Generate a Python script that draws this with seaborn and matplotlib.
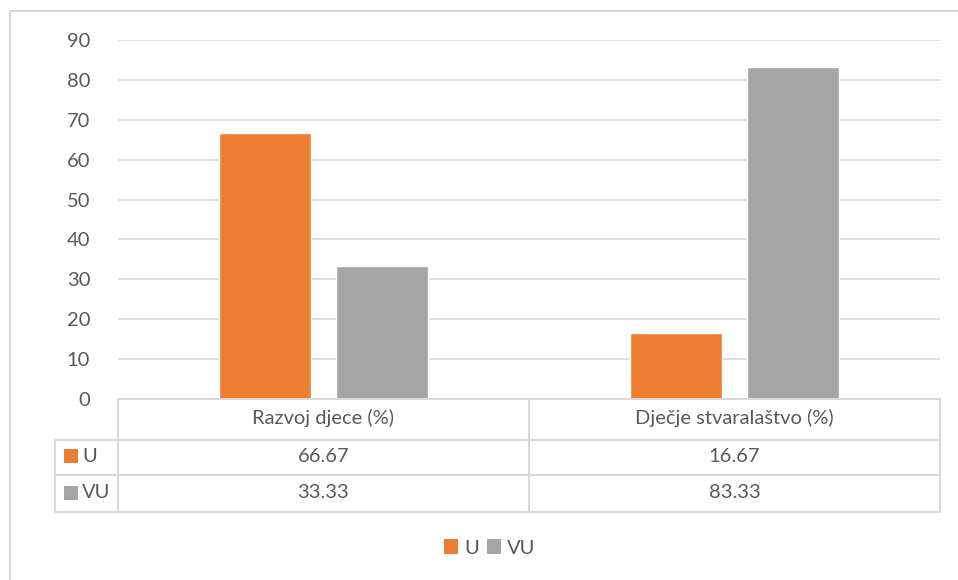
import matplotlib
matplotlib.use("Agg")
import matplotlib.pyplot as plt
import seaborn as sns
import pandas as pd
from matplotlib.patches import Patch, Rectangle

# --- data ---
categories = ["Razvoj djece (%)", "Dječje stvaralaštvo (%)"]
series = ["U", "VU"]
values_u = [66.67, 16.67]
values_vu = [33.33, 83.33]
value_labels = {"U": ["66.67", "16.67"], "VU": ["33.33", "83.33"]}
y_ticks = [0, 10, 20, 30, 40, 50, 60, 70, 80, 90]

colors = {"U": "#ED7D31", "VU": "#A5A5A5"}
grid_col = "#D9D9D9"
text_col = "#595959"

df = pd.DataFrame({
    "category": categories * 2,
    "series": ["U"] * len(categories) + ["VU"] * len(categories),
    "value": values_u + values_vu,
})

sns.set_theme(style="white")
plt.rcParams["font.family"] = ["Lato", "DejaVu Sans"]
FS = 14.5

W, H = 958, 580
fig = plt.figure(figsize=(W / 100, H / 100), dpi=100)

def px_axes(x0, y0, x1, y1):
    # rectangle in pixel coords (top-left origin)
    return fig.add_axes([x0 / W, 1 - y1 / H, (x1 - x0) / W, (y1 - y0) / H])

# chart area border
fig.patches.append(Rectangle((10 / W, -0.1), 2, 1 - 11 / H + 0.1, transform=fig.transFigure,
                             fill=False, edgecolor=grid_col, linewidth=1.5))

ax = px_axes(118, 40, 940, 399)
sns.barplot(data=df, x="category", y="value", hue="series", palette=colors,
            width=0.569, gap=0.214, ax=ax, legend=False, saturation=1)
ax.set_xlim(-0.5, 1.5)
ax.set_ylim(0, 90)
ax.set_yticks(y_ticks)
ax.set_yticklabels([str(t) for t in y_ticks], fontsize=FS, color=text_col)
ax.tick_params(axis="y", length=0, pad=20)
ax.set_xticks([])
ax.set_xlabel("")
ax.set_ylabel("")
ax.yaxis.grid(True, color=grid_col, linewidth=1.2)
ax.set_axisbelow(True)
for s in ax.spines.values():
    s.set_visible(False)

# --- data table below the plot ---
lab_w = 63 / 411  # label column width in category units
tb = px_axes(55, 399, 940, 512)
tb.set_xlim(-0.5 - lab_w, 1.5)
tb.set_ylim(113, 0)
tb.axis("off")
row_lines = [0, 41, 76, 113]
lw = 1.5
tb.plot([-0.5, 1.5], [row_lines[0]] * 2, color=grid_col, lw=lw, clip_on=False)
for yl in row_lines[1:]:
    tb.plot([-0.5 - lab_w, 1.5], [yl] * 2, color=grid_col, lw=lw, clip_on=False)
for xl in [-0.5, 0.5, 1.5]:
    tb.plot([xl, xl], [0, 113], color=grid_col, lw=lw, clip_on=False)
tb.plot([-0.5 - lab_w] * 2, [41, 113], color=grid_col, lw=lw, clip_on=False)

for i, c in enumerate(categories):
    tb.text(i, 19, c, ha="center", va="center", fontsize=FS, color=text_col)

row_mid = {"U": 57, "VU": 94}
for s in series:
    y = row_mid[s]
    tb.add_patch(Rectangle((-0.5 - lab_w + 9 / 411, y - 7), 14 / 411, 14,
                           facecolor=colors[s], edgecolor="none", clip_on=False))
    tb.text(-0.5 - lab_w + 27 / 411, y, s, ha="left", va="center", fontsize=FS, color=text_col)
    for i, v in enumerate(value_labels[s]):
        tb.text(i, y, v, ha="center", va="center", fontsize=FS, color=text_col)

# --- legend ---
handles = [Patch(facecolor=colors[s], edgecolor="none", label=s) for s in series]
fig.legend(handles=handles, loc="center", bbox_to_anchor=(490 / W, 1 - 548 / H), ncol=2,
           frameon=False, fontsize=FS, labelcolor=text_col, handlelength=0.7, handleheight=0.7,
           handletextpad=0.3, columnspacing=0.4)

fig.savefig("out.png", dpi=100, facecolor="white")
